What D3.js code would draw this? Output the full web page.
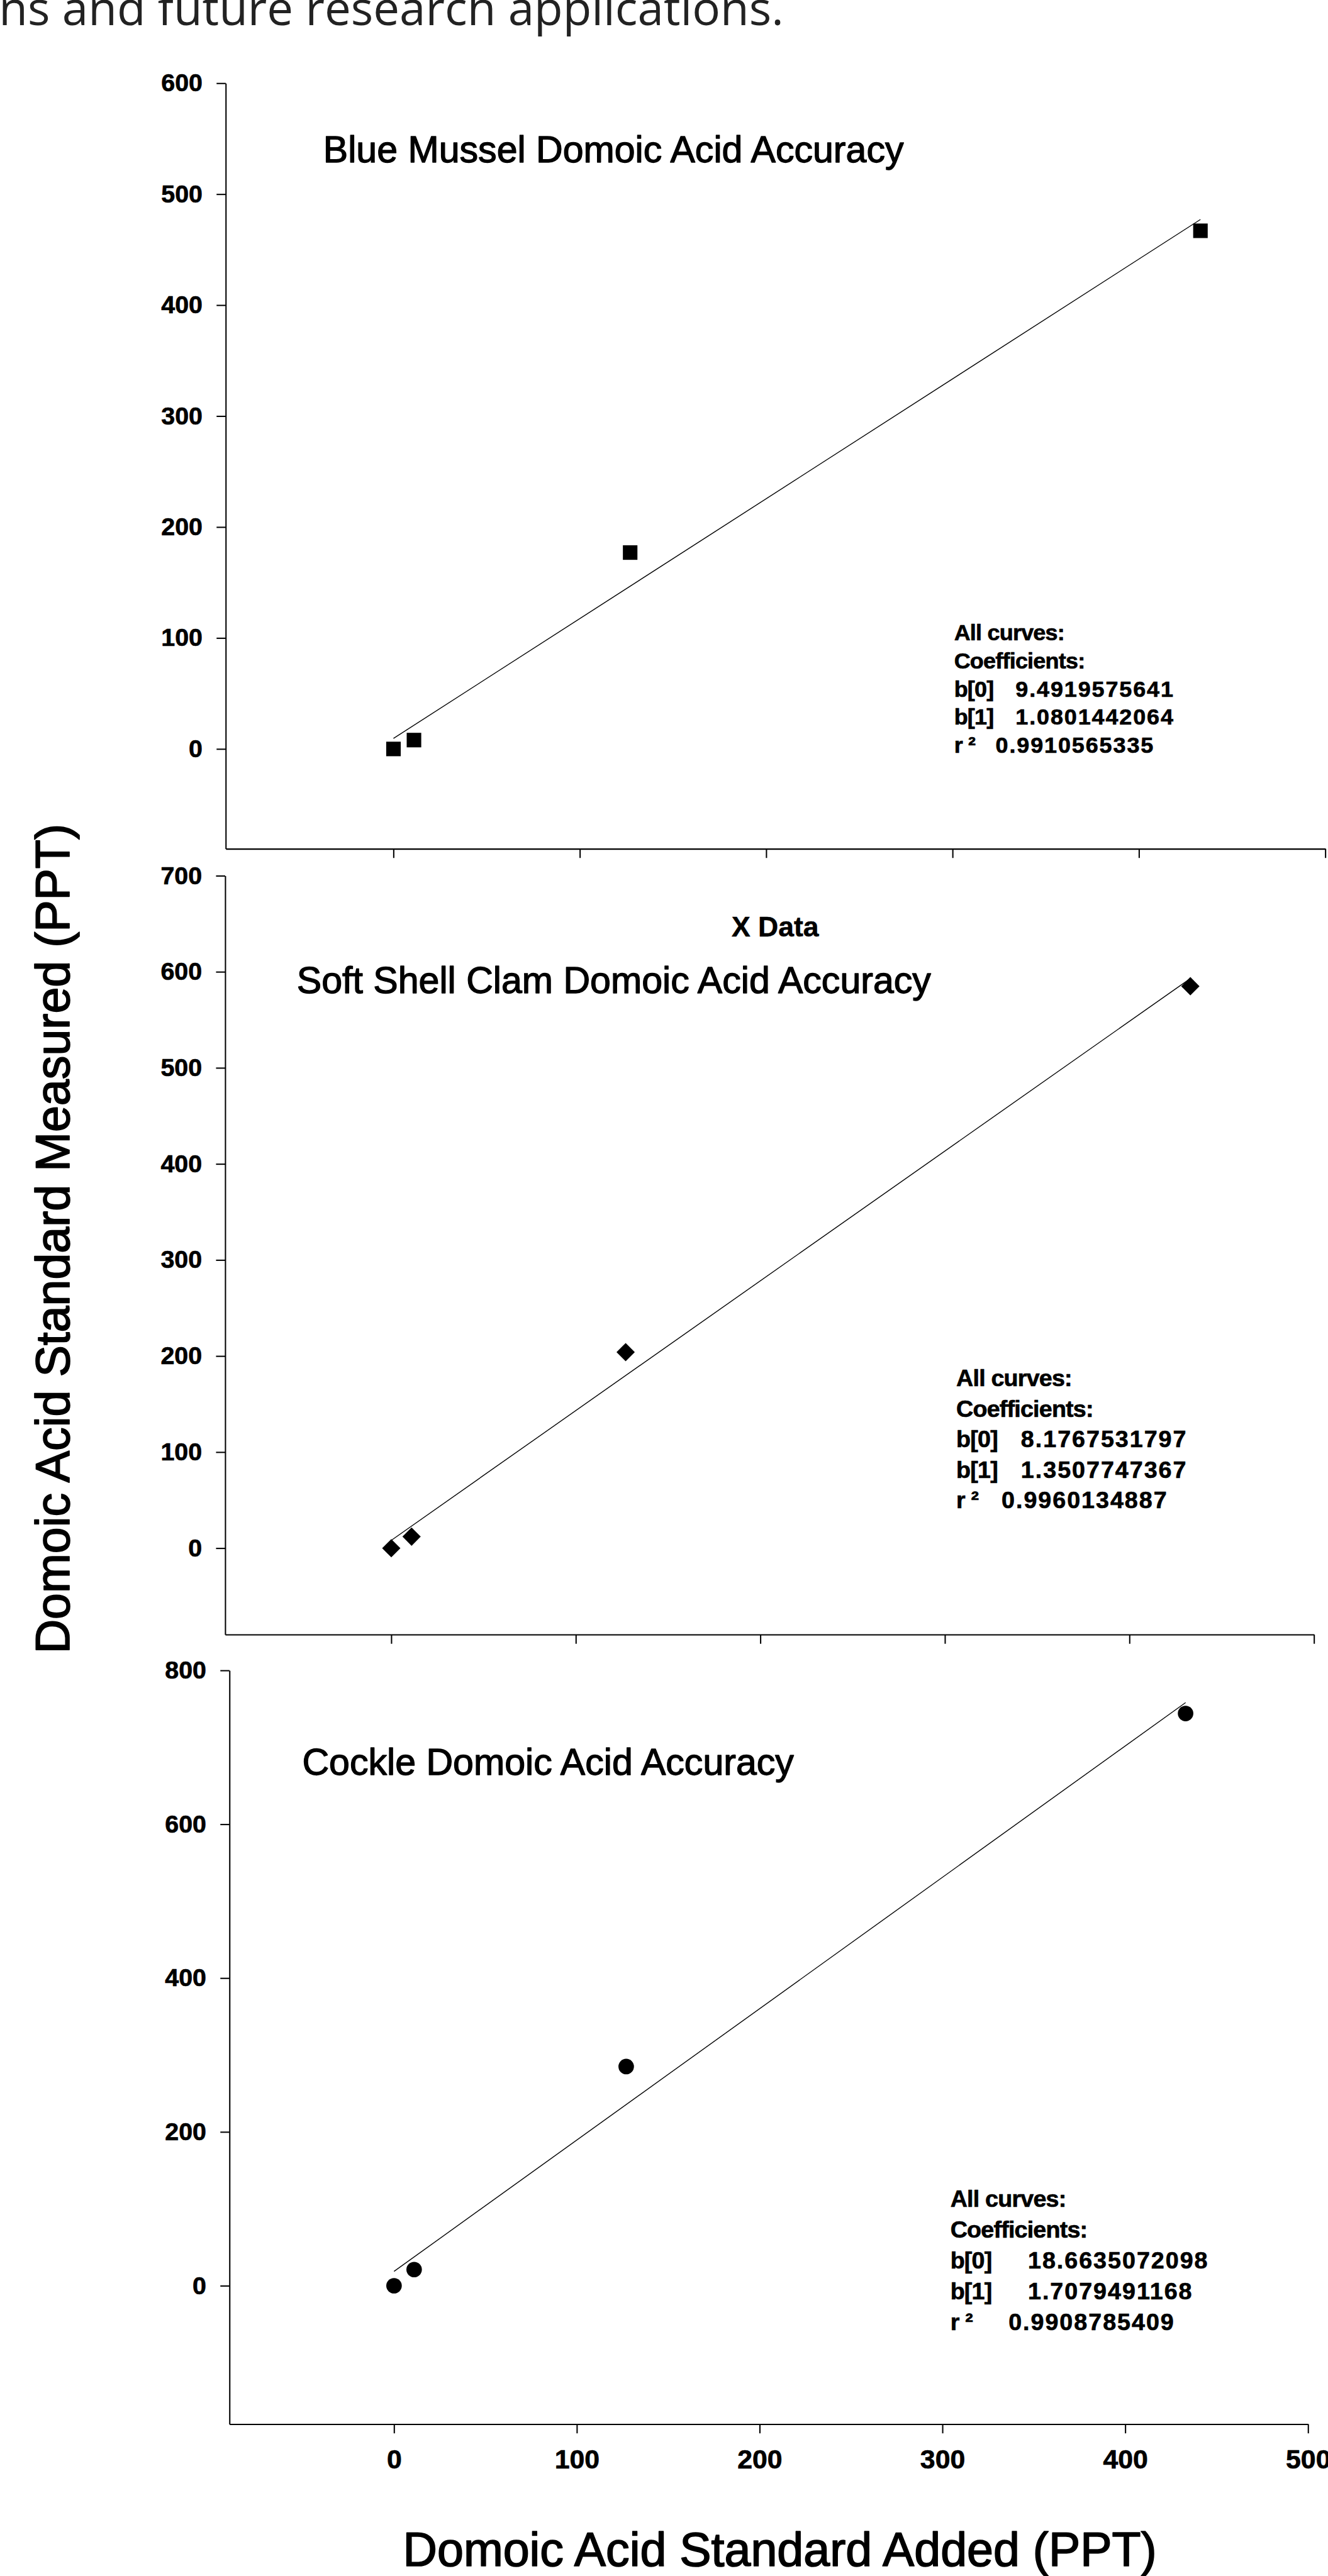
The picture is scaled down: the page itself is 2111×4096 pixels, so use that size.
<!DOCTYPE html>
<html>
<head>
<meta charset="utf-8">
<script src="https://cdn.jsdelivr.net/npm/d3@7"></script>
<style>
  html, body { margin: 0; padding: 0; background: #fff; }
  svg { display: block; }
</style>
</head>
<body>
<svg id="chart" width="2111" height="4096"></svg>
<script>
// ---- Data -------------------------------------------------------------
// Domoic acid standard spiked into each extract (PPT)
const standardAdded = [0, 11, 127, 433];

// Domoic acid measured back (PPT) for each shellfish matrix
const musselMeasured = [0, 8, 177, 467];
const clamMeasured = [0, 12, 204, 585];
const cockleMeasured = [0, 21, 285, 744];

const panelTitles = [
  "Blue Mussel Domoic Acid Accuracy",
  "Soft Shell Clam Domoic Acid Accuracy",
  "Cockle Domoic Acid Accuracy"
];

// Linear regression results: b[0], b[1], r²
const musselCoefficients = ["9.4919575641", "1.0801442064", "0.9910565335"];
const clamCoefficients = ["8.1767531797", "1.3507747367", "0.9960134887"];
const cockleCoefficients = ["18.6635072098", "1.7079491168", "0.9908785409"];

const coefficientLabels = ["b[0]", "b[1]", "r \u00B2"];

// Axis ticks and ranges
const xTicks = [0, 100, 200, 300, 400, 500];
const musselYTicks = [0, 100, 200, 300, 400, 500, 600];
const clamYTicks = [0, 100, 200, 300, 400, 500, 600, 700];
const cockleYTicks = [0, 200, 400, 600, 800];

const xDomain = [-90, 500];
const musselYDomain = [-90, 600];
const clamYDomain = [-90, 700];
const cockleYDomain = [-180, 800];

// ---- Layout (drawn in a 2465 x 4784 design space, then scaled) ---------
const SCALE = 2111 / 2465;
const FONT = "'Liberation Sans', Arial, Helvetica, sans-serif";

const panels = [
  {
    title: panelTitles[0], measured: musselMeasured, coef: musselCoefficients,
    yTicks: musselYTicks, yDomain: musselYDomain, marker: "square",
    frame: { left: 419, right: 2460, top: 154.5, bottom: 1576 },
    titleAt: [600, 301],
    box: { x: 1771, valueX: 1885, r2ValueX: 1848, y: 1189, lineH: 52.2, size: 42 },
    xLabels: false
  },
  {
    title: panelTitles[1], measured: clamMeasured, coef: clamCoefficients,
    yTicks: clamYTicks, yDomain: clamYDomain, marker: "diamond",
    frame: { left: 418, right: 2439, top: 1626, bottom: 3035 },
    titleAt: [551, 1844],
    box: { x: 1775, valueX: 1895, r2ValueX: 1859, y: 2574, lineH: 56.5, size: 44 },
    xLabels: false
  },
  {
    title: panelTitles[2], measured: cockleMeasured, coef: cockleCoefficients,
    yTicks: cockleYTicks, yDomain: cockleYDomain, marker: "circle",
    frame: { left: 426, right: 2428, top: 3101.5, bottom: 4501 },
    titleAt: [561, 3295],
    box: { x: 1764, valueX: 1908, r2ValueX: 1872, y: 4098, lineH: 57, size: 44 },
    xLabels: true
  }
];

const svg = d3.select("#chart");
svg.append("rect").attr("width", 2111).attr("height", 4096).attr("fill", "#fff");

const root = svg.append("g").attr("transform", `scale(${SCALE})`);

// Running document text above the figure
root.append("text")
  .attr("x", -2).attr("y", 47)
  .attr("font-family", "'Open Sans', 'Noto Sans', sans-serif")
  .attr("font-size", 87)
  .attr("fill", "#222")
  .text("ns and future research applications.");

// Heavier text rendering: fill plus a thin matching outline
function heavy(sel, w) {
  return sel.attr("stroke", "#000").attr("stroke-width", w).attr("stroke-linejoin", "round");
}

function styleAxis(a) {
  a.attr("font-family", null).attr("font-size", null);
  a.select(".domain").attr("stroke", "#000").attr("stroke-width", 2.4);
  a.selectAll(".tick line").attr("stroke", "#000").attr("stroke-width", 2.4);
  a.selectAll(".tick text")
    .attr("fill", "#000")
    .attr("font-family", FONT)
    .attr("font-weight", "bold");
}

function drawPanel(p) {
  const g = root.append("g");
  const x = d3.scaleLinear().domain(xDomain).range([p.frame.left, p.frame.right]);
  const y = d3.scaleLinear().domain(p.yDomain).range([p.frame.bottom, p.frame.top]);

  // Left axis
  const gy = g.append("g")
    .attr("transform", `translate(${p.frame.left},0)`)
    .call(d3.axisLeft(y).tickValues(p.yTicks).tickSize(17).tickSizeOuter(0)
      .tickPadding(26).tickFormat(d3.format("d")));
  styleAxis(gy);
  heavy(gy.selectAll(".tick text").attr("font-size", 46), 0.8);

  // Bottom axis (tick labels only on the lowest panel)
  const gx = g.append("g")
    .attr("transform", `translate(0,${p.frame.bottom})`)
    .call(d3.axisBottom(x).tickValues(xTicks).tickSize(17).tickSizeOuter(0)
      .tickPadding(30).tickFormat(p.xLabels ? d3.format("d") : () => ""));
  styleAxis(gx);
  heavy(gx.selectAll(".tick text").attr("font-size", 50), 0.8);

  // Regression line from the reported coefficients, over the spiked range
  const b0 = +p.coef[0], b1 = +p.coef[1];
  const xr = d3.extent(standardAdded);
  g.append("path")
    .datum(xr)
    .attr("fill", "none")
    .attr("stroke", "#000")
    .attr("stroke-width", 1.6)
    .attr("d", d3.line().x(d => x(d)).y(d => y(b0 + b1 * d)));

  // Data markers
  const pts = standardAdded.map((v, i) => [v, p.measured[i]]);
  let sym, rot = 0;
  if (p.marker === "square") sym = d3.symbol().type(d3.symbolSquare).size(27 * 27);
  else if (p.marker === "diamond") { sym = d3.symbol().type(d3.symbolSquare).size(24 * 24); rot = 45; }
  else sym = d3.symbol().type(d3.symbolCircle).size(Math.PI * 14.4 * 14.4);

  g.selectAll("path.pt").data(pts).join("path")
    .attr("class", "pt")
    .attr("d", sym)
    .attr("fill", "#000")
    .attr("transform", d => `translate(${x(d[0])},${y(d[1])}) rotate(${rot})`);

  // Panel title
  heavy(g.append("text")
    .attr("x", p.titleAt[0]).attr("y", p.titleAt[1])
    .attr("font-family", FONT).attr("font-size", 69).attr("fill", "#000")
    .text(p.title), 1.6);

  // Regression summary
  const b = p.box;
  const lab = (txt, xx, row) => heavy(g.append("text")
    .attr("x", xx).attr("y", b.y + row * b.lineH)
    .attr("font-family", FONT).attr("font-weight", "bold")
    .attr("font-size", b.size).attr("letter-spacing", -0.9 * b.size / 42)
    .attr("fill", "#000").text(txt), 0.8);
  const val = (txt, xx, row) => heavy(g.append("text")
    .attr("x", xx).attr("y", b.y + row * b.lineH)
    .attr("font-family", FONT).attr("font-weight", "bold")
    .attr("font-size", b.size).attr("letter-spacing", 2.2 * b.size / 42)
    .attr("fill", "#000").text(txt), 0.8);

  lab("All curves:", b.x, 0);
  lab("Coefficients:", b.x, 1);
  coefficientLabels.forEach((l, i) => {
    lab(l, b.x, 2 + i);
    val(p.coef[i], i === 2 ? b.r2ValueX : b.valueX, 2 + i);
  });
}

panels.forEach(drawPanel);

// Leftover x-axis caption between the first two panels
heavy(root.append("text")
  .attr("x", 1439).attr("y", 1739)
  .attr("text-anchor", "middle")
  .attr("font-family", FONT).attr("font-weight", "bold").attr("font-size", 52)
  .attr("fill", "#000")
  .text("X Data"), 0.6);

// Shared axis titles
heavy(root.append("text")
  .attr("x", 748).attr("y", 4764)
  .attr("font-family", FONT).attr("font-size", 88).attr("fill", "#000")
  .text("Domoic Acid Standard Added (PPT)"), 2);

heavy(root.append("text")
  .attr("transform", "translate(128,2300) rotate(-90)")
  .attr("text-anchor", "middle")
  .attr("font-family", FONT).attr("font-size", 88).attr("fill", "#000")
  .text("Domoic Acid Standard Measured (PPT)"), 2);
</script>
</body>
</html>
